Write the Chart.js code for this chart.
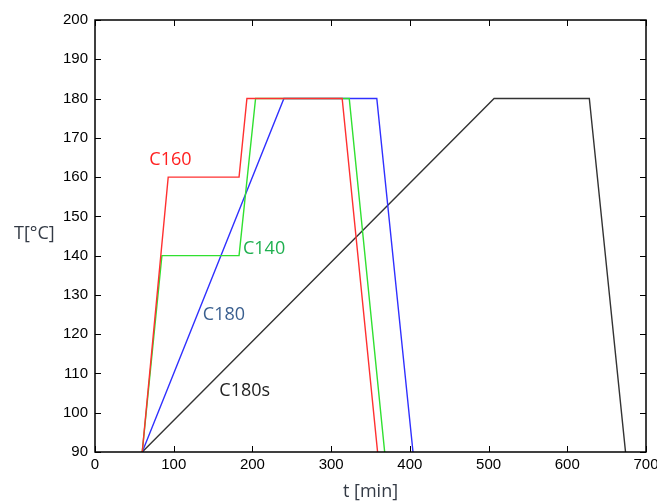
<!DOCTYPE html>
<html>
<head>
<meta charset="utf-8">
<script src="https://cdn.jsdelivr.net/npm/chart.js@4/dist/chart.umd.min.js"></script>
<style>
  html, body { margin: 0; padding: 0; background: #fff; }
  #wrap { width: 657px; height: 501px; }
</style>
</head>
<body>
<div id="wrap"><canvas id="chart" width="657" height="501"></canvas></div>
<script>
// temperature profiles, t [min] vs T [°C]
var c160_t = [60, 93, 183, 193, 314, 359];
var c160_T = [90, 160, 160, 180, 180, 90];
var c140_t = [60, 85, 183, 204, 323, 368];
var c140_T = [90, 140, 140, 180, 180, 90];
var c180_t = [60, 240, 358, 404];
var c180_T = [90, 180, 180, 90];
var c180s_t = [60, 507, 628, 674];
var c180s_T = [90, 180, 180, 90];

var xTicks = [0, 100, 200, 300, 400, 500, 600, 700];
var yTicks = [90, 100, 110, 120, 130, 140, 150, 160, 170, 180, 190, 200];

// text labels: [text, t, T, colour]
var seriesLabels = [
    ['C160', 69, 164.5, '#ff2020'],
    ['C140', 188, 141.7, '#20b050'],
    ['C180', 137, 124.8, '#3a5f8f'],
    ['C180s', 158, 105.5, '#222222']
];

function pts(xs, ys) {
    return xs.map(function (x, i) { return { x: x, y: ys[i] }; });
}

function line(label, xs, ys, color) {
    return {
        label: label,
        data: pts(xs, ys),
        showLine: true,
        borderColor: color,
        borderWidth: 1.4,
        pointRadius: 0,
        fill: false,
        tension: 0
    };
}

var tickFont = { family: 'Liberation Sans', size: 15 };

var boxPlugin = {
    id: 'box',
    afterDraw: function (chart) {
        var ctx = chart.ctx;
        var a = chart.chartArea;
        var xs = chart.scales.x, ys = chart.scales.y;
        ctx.save();
        ctx.strokeStyle = '#000';
        ctx.lineWidth = 1;
        ctx.beginPath();
        // inward ticks on all four sides
        xTicks.forEach(function (v) {
            var px = Math.round(xs.getPixelForValue(v)) + 0.5;
            ctx.moveTo(px, a.bottom); ctx.lineTo(px, a.bottom - 6);
            ctx.moveTo(px, a.top); ctx.lineTo(px, a.top + 6);
        });
        yTicks.forEach(function (v) {
            var py = Math.round(ys.getPixelForValue(v)) + 0.5;
            ctx.moveTo(a.left, py); ctx.lineTo(a.left + 6, py);
            ctx.moveTo(a.right, py); ctx.lineTo(a.right - 6, py);
        });
        ctx.stroke();
        ctx.lineWidth = 1.5;
        ctx.strokeRect(a.left, a.top, a.right - a.left, a.bottom - a.top);

        // series labels
        ctx.font = '18px "Open Sans"';
        ctx.textBaseline = 'middle';
        ctx.textAlign = 'left';
        seriesLabels.forEach(function (l) {
            ctx.fillStyle = l[3];
            ctx.fillText(l[0], xs.getPixelForValue(l[1]), ys.getPixelForValue(l[2]));
        });

        // axis titles
        ctx.fillStyle = '#333a45';
        ctx.fillText('T[°C]', 14, ys.getPixelForValue(145.5));
        ctx.textAlign = 'center';
        ctx.fillText('t [min]', (a.left + a.right) / 2, 492);
        ctx.restore();
    }
};

new Chart(document.getElementById('chart'), {
    type: 'scatter',
    data: {
        datasets: [
            line('C160', c160_t, c160_T, '#ff3030'),
            line('C140', c140_t, c140_T, '#30e030'),
            line('C180', c180_t, c180_T, '#3030ff'),
            line('C180s', c180s_t, c180s_T, '#333333')
        ]
    },
    options: {
        responsive: false,
        animation: false,
        layout: { padding: { left: 0, right: 11, top: 20, bottom: 0 } },
        plugins: { legend: { display: false }, tooltip: { enabled: false } },
        scales: {
            x: {
                type: 'linear',
                min: 0, max: 700,
                afterBuildTicks: function (s) { s.ticks = xTicks.map(function (v) { return { value: v }; }); },
                afterFit: function (s) {
                    s.height = 49;
                    // let the "700" label overhang the right edge like the original
                    s.paddingRight = 0;
                    s.paddingLeft = 0;
                },
                grid: { display: false, drawTicks: false },
                border: { display: false },
                ticks: { color: '#000', font: tickFont, padding: 4, maxRotation: 0 }
            },
            y: {
                type: 'linear',
                min: 90, max: 200,
                afterBuildTicks: function (s) { s.ticks = yTicks.map(function (v) { return { value: v }; }); },
                afterFit: function (s) { s.width = 95; },
                grid: { display: false, drawTicks: false },
                border: { display: false },
                ticks: { color: '#000', font: tickFont, padding: 7 }
            }
        }
    },
    plugins: [boxPlugin]
});
</script>
</body>
</html>
